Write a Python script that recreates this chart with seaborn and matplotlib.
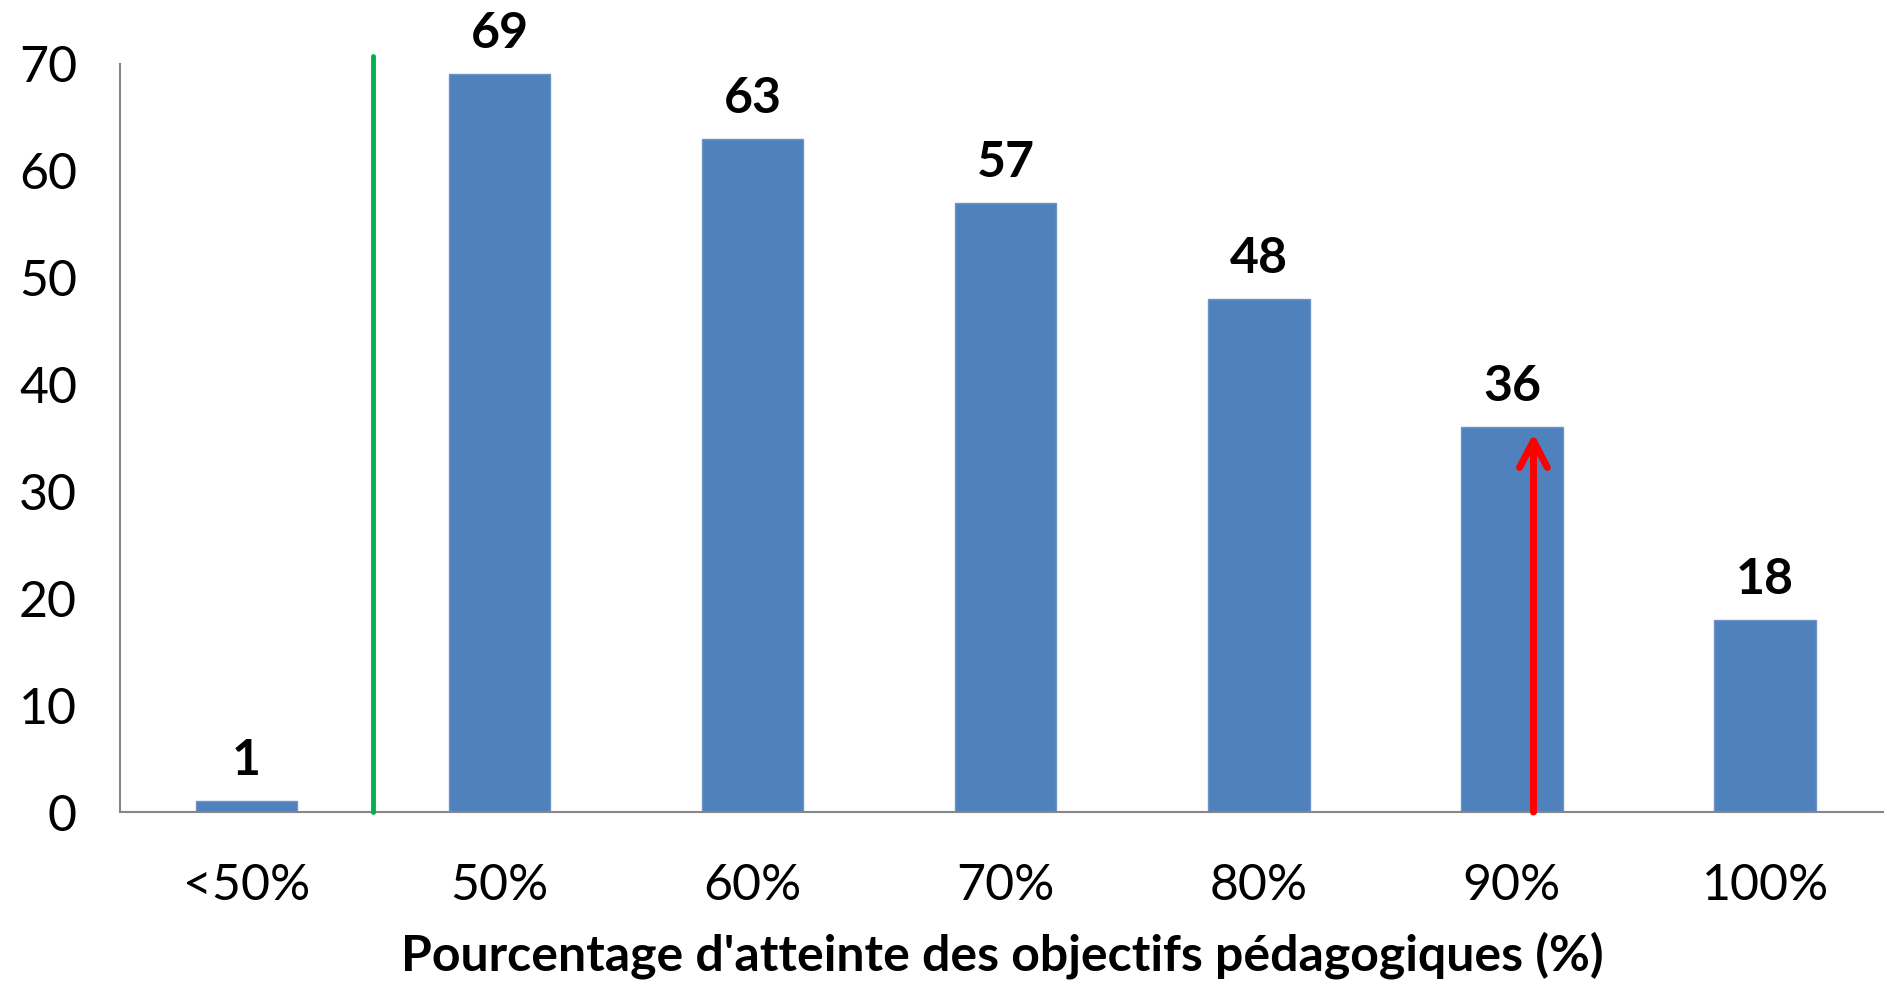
import matplotlib
matplotlib.use("Agg")
import matplotlib.pyplot as plt
import seaborn as sns
import pandas as pd

categories = ["<50%", "50%", "60%", "70%", "80%", "90%", "100%"]
values = [1, 69, 63, 57, 48, 36, 18]
y_ticks = [0, 10, 20, 30, 40, 50, 60, 70]
x_label = "Pourcentage d'atteinte des objectifs pédagogiques (%)"

df = pd.DataFrame({"categorie": categories, "valeur": values})

sns.set_style("white")
plt.rcParams["font.family"] = ["Lato", "DejaVu Sans"]
plt.rcParams["text.color"] = "black"

fig = plt.figure(figsize=(18.84, 9.82), dpi=100)
ax = fig.add_axes([0.0637, 0.1731, 0.9363, 0.762])

sns.barplot(data=df, x="categorie", y="valeur", color="#4F81BD", width=0.4,
            saturation=1, edgecolor="#6F95C8", linewidth=1, ax=ax)

ax.set_xlim(-0.5, 6.47)
ax.set_ylim(0, 70)
ax.set_yticks(y_ticks)
ax.tick_params(axis="y", labelsize=36, length=11, width=1.5, color="#868686",
               pad=20, direction="out")
ax.tick_params(axis="x", labelsize=36, length=0, pad=37)

for lab in ax.get_yticklabels() + ax.get_xticklabels():
    lab.set_color("black")

ax.set_xlabel(x_label, fontsize=36, fontweight="bold", labelpad=16, color="black")
ax.set_ylabel("")

for s in ["top", "right"]:
    ax.spines[s].set_visible(False)
for s in ["left", "bottom"]:
    ax.spines[s].set_color("#868686")
    ax.spines[s].set_linewidth(1.5)

ax.bar_label(ax.containers[0], labels=[str(v) for v in values], padding=13,
             fontsize=36, fontweight="bold", color="black", clip_on=False)

# seuil vert entre <50% et 50%
ax.plot([0.5, 0.5], [0, 70.7], color="#00B050", lw=3.5, clip_on=False, zorder=5)

# fleche rouge sur la barre 90%
ax.annotate("", xy=(5.085, 35.4), xytext=(5.085, 0),
            arrowprops=dict(arrowstyle="->,head_length=0.95,head_width=0.5",
                            color="#FF0000", lw=5, mutation_scale=20,
                            shrinkA=0, shrinkB=0, capstyle="round"),
            zorder=6)

plt.savefig("out.png", dpi=100)
